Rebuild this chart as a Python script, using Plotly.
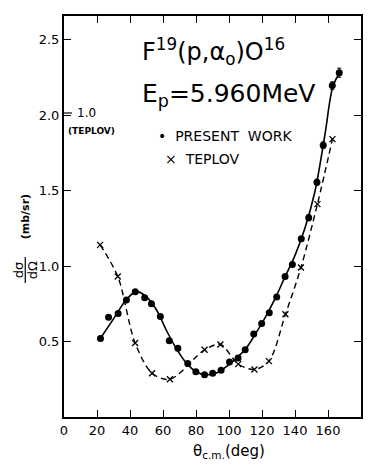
import plotly.graph_objects as go

# Present work (filled circles)
present_theta = [22.1, 27.0, 32.8, 37.8, 43.2, 48.9, 53.0, 58.4, 63.8, 69.0, 75.0, 79.9, 85.2, 90.1, 95.2,
                 100.3, 105.5, 109.8, 115.0, 119.8, 124.4, 128.9, 134.0, 138.4, 143.8, 148.3, 153.3, 157.1, 162.6, 166.8]
present_val = [0.52, 0.66, 0.685, 0.775, 0.83, 0.79, 0.75, 0.665, 0.505, 0.455, 0.355, 0.30, 0.28, 0.29, 0.31,
               0.365, 0.39, 0.445, 0.55, 0.62, 0.69, 0.795, 0.93, 1.01, 1.18, 1.32, 1.555, 1.80, 2.195, 2.28]
present_err = [0, 0, 0, 0, 0, 0, 0, 0, 0, 0, 0, 0, 0, 0, 0,
               0, 0, 0, 0, 0, 0, 0, 0, 0.012, 0.015, 0.02, 0.02, 0.022, 0.025, 0.03]

# Smooth fit curve through present work
fit_theta = [22, 30, 38, 44, 50, 56, 62, 68, 74, 80, 86, 92, 98, 104, 110, 116, 122, 128, 134, 140, 146, 152, 158, 163, 167]
fit_val = [0.52, 0.65, 0.78, 0.83, 0.795, 0.71, 0.575, 0.455, 0.36, 0.30, 0.28, 0.29, 0.33, 0.385, 0.45, 0.55,
           0.66, 0.785, 0.93, 1.07, 1.25, 1.49, 1.86, 2.19, 2.28]

# Teplov (crosses)
teplov_theta = [21.9, 32.6, 43.1, 53.4, 64.2, 85.2, 94.8, 105.6, 115.4, 124.2, 134.2, 143.6, 153.6, 162.7]
teplov_val = [1.14, 0.93, 0.49, 0.29, 0.25, 0.445, 0.48, 0.35, 0.315, 0.37, 0.68, 0.99, 1.41, 1.84]

x_ticks = [0, 20, 40, 60, 80, 100, 120, 140, 160, 180]
y_ticks = [0.5, 1.0, 1.5, 2.0, 2.5]
y_ticklabels = ["0.5", "1.0", "1.5", "2.0", "2.5"]

W, H = 373, 469
ML, MR, MT, MB = 64, 10, 16, 52
PW, PH = W - ML - MR, H - MT - MB


def px(x):
    return (x - ML) / PW


def py(y):
    return (H - MB - y) / PH


FONT = "DejaVu Sans"


def label(x, y, text, size, xanchor="center", angle=0, family=FONT):
    return dict(x=px(x), y=py(y), xref="paper", yref="paper", showarrow=False, text=text,
                xanchor=xanchor, yanchor="middle", textangle=angle,
                font=dict(family=family, size=size, color="black"))


fig = go.Figure()
fig.add_trace(go.Scatter(x=fit_theta, y=fit_val, mode="lines", line=dict(color="black", width=1.6, shape="spline"),
                         showlegend=False, hoverinfo="skip"))
fig.add_trace(go.Scatter(x=teplov_theta, y=teplov_val, mode="lines",
                         line=dict(color="black", width=1.4, dash="6px,4px", shape="spline", smoothing=0.9),
                         showlegend=False, hoverinfo="skip"))
fig.add_trace(go.Scatter(x=present_theta, y=present_val, mode="markers",
                         marker=dict(symbol="circle", size=7, color="black"),
                         error_y=dict(type="data", array=present_err, color="black", thickness=1, width=2),
                         showlegend=False))
fig.add_trace(go.Scatter(x=teplov_theta, y=teplov_val, mode="markers",
                         marker=dict(symbol="x-thin", size=6, line=dict(color="black", width=1.3)),
                         showlegend=False))

ann = [
    label(215, 52, "F<sup>19</sup>(p,α<sub>o</sub>)O<sup>16</sup>", 24),
    label(230, 95, "E<sub>p</sub>=5.960MeV", 25),
    label(157, 136, "•  PRESENT  WORK", 14, xanchor="left"),
    label(164, 159, "×  TEPLOV", 14, xanchor="left"),
    label(75, 113, "1.0", 12, xanchor="left"),
    label(66, 131, "<b>(TEPLOV)</b>", 9, xanchor="left"),
    label(230, 451, "θ<sub>c.m.</sub>(deg)", 15),
    label(25, 217, "<b>(mb/sr)</b>", 11, angle=-90),
    label(18, 270, "dσ", 13, angle=-90),
    label(32, 270, "dΩ", 13, angle=-90),
]

shapes = [
    dict(type="line", xref="paper", yref="paper", x0=px(25), x1=px(25), y0=py(257), y1=py(283),
         line=dict(color="black", width=1.2)),
    dict(type="line", xref="paper", yref="paper", x0=px(64), x1=px(72), y0=py(113), y1=py(113),
         line=dict(color="black", width=1.2)),
]

fig.update_layout(
    width=W, height=H, margin=dict(l=ML, r=MR, t=MT, b=MB),
    plot_bgcolor="white", paper_bgcolor="white",
    annotations=ann, shapes=shapes, showlegend=False,
    font=dict(family=FONT, size=12, color="black"),
)
fig.update_xaxes(range=[0, 180], tickvals=x_ticks, ticktext=[str(v) for v in x_ticks],
                 ticks="inside", ticklen=7, tickwidth=1.2, tickcolor="black",
                 showline=True, linewidth=2, linecolor="black", mirror="allticks",
                 showgrid=False, zeroline=False, tickfont=dict(family=FONT, size=13))
fig.update_yaxes(range=[0, 401 / 151], tickvals=y_ticks, ticktext=y_ticklabels,
                 ticks="inside", ticklen=7, tickwidth=1.2, tickcolor="black",
                 showline=True, linewidth=2, linecolor="black", mirror="allticks",
                 showgrid=False, zeroline=False, tickfont=dict(family=FONT, size=13))

fig.write_html("out.html")
